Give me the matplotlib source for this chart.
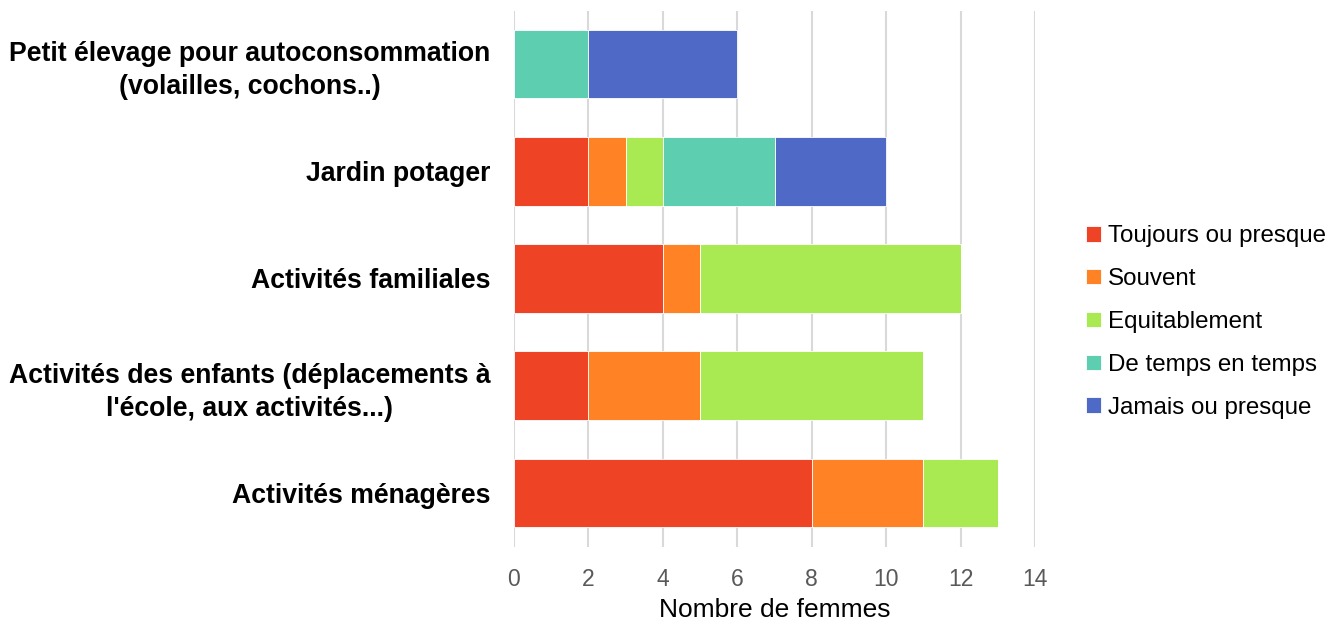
import matplotlib.pyplot as plt
import numpy as np

plt.rcParams['font.family'] = ['Liberation Sans', 'DejaVu Sans']

# categories from bottom to top
categories = [
    "Activités ménagères",
    "Activités des enfants (déplacements à\nl'école, aux activités...)",
    "Activités familiales",
    "Jardin potager",
    "Petit élevage pour autoconsommation\n(volailles, cochons..)",
]
series_names = ["Toujours ou presque", "Souvent", "Equitablement",
                "De temps en temps", "Jamais ou presque"]
toujours = [8, 2, 4, 2, 0]
souvent = [3, 3, 1, 1, 0]
equitablement = [2, 6, 7, 1, 0]
de_temps = [0, 0, 0, 3, 2]
jamais = [0, 0, 0, 3, 4]
colors = ["#EF4326", "#FF8224", "#A9EA52", "#5DCEB0", "#4F69C7"]

values = [toujours, souvent, equitablement, de_temps, jamais]

fig = plt.figure(figsize=(13.42, 6.25), dpi=100)
ax = fig.add_axes([514 / 1342, 1 - 546.5 / 625, (1035 - 514) / 1342, (546.5 - 10.5) / 625])

y = np.arange(len(categories))
left = np.zeros(len(categories))
for name, vals, col in zip(series_names, values, colors):
    vals = np.array(vals, dtype=float)
    ax.barh(y, vals, left=left, height=0.64, color=col, label=name,
            edgecolor='white', linewidth=0.6, zorder=3)
    left += vals

ax.set_xlim(0, 14)
ax.set_ylim(-0.5, len(categories) - 0.5)
ax.set_xticks(range(0, 15, 2))
ax.set_yticks(y)
ax.set_yticklabels(categories, fontsize=19.2, fontweight='bold',
                   multialignment='center', linespacing=1.35)
ax.tick_params(axis='y', length=0, pad=17)
ax.tick_params(axis='x', length=0, pad=15.5, labelsize=16.5, labelcolor='#595959')
ax.xaxis.grid(True, color='#D9D9D9', linewidth=1.5, zorder=0)
for s in ax.spines.values():
    s.set_visible(False)
ax.set_xlabel("Nombre de femmes", fontsize=19, labelpad=5)

ax.legend(loc='center left', bbox_to_anchor=(1086 / 1342, 1 - 322 / 625),
          bbox_transform=fig.transFigure, frameon=False, fontsize=17.4,
          handlelength=0.6, handleheight=0.6, handletextpad=0.3,
          labelspacing=0.86, borderpad=0, borderaxespad=0)

fig.savefig("out.png", dpi=100)
